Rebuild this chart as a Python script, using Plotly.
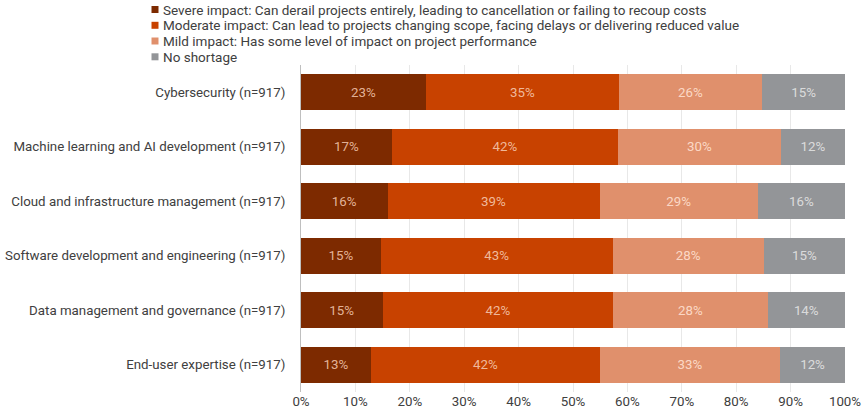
import plotly.graph_objects as go

categories = ['Cybersecurity (n=917)', 'Machine learning and AI development (n=917)',
              'Cloud and infrastructure management (n=917)', 'Software development and engineering (n=917)',
              'Data management and governance (n=917)', 'End-user expertise (n=917)']

severe = [23.0, 16.7, 15.9, 14.7, 15.0, 12.9]
moderate = [35.4, 41.6, 39.0, 42.6, 42.4, 42.0]
mild = [26.4, 29.9, 29.1, 27.8, 28.4, 33.2]
no_shortage = [15.2, 11.8, 16.0, 14.9, 14.2, 11.9]

series = [
    ('Severe impact: Can derail projects entirely, leading to cancellation or failing to recoup costs', severe, '#7d2a00', 'rgba(240,195,170,0.9)'),
    ('Moderate impact: Can lead to projects changing scope, facing delays or delivering reduced value', moderate, '#c84200', 'rgba(245,200,175,0.9)'),
    ('Mild impact: Has some level of impact on project performance', mild, '#e0906c', 'rgba(255,225,210,0.9)'),
    ('No shortage', no_shortage, '#939598', 'rgba(228,228,228,0.9)'),
]

# plot area in pixels: x 301..845, y 65..392
W, H = 865, 419
L, R, T, B = 301, 20, 65, 27
pw, ph = W - L - R, H - T - B

def px_x(x):
    return (x - L) / pw

def px_y(y):
    return (H - B - y) / ph

fig = go.Figure()
for name, vals, color, txtcolor in series:
    fig.add_trace(go.Bar(
        y=categories, x=vals, name=name, orientation='h',
        marker=dict(color=color, line=dict(width=0)),
        texttemplate='%{x:.0f}%', textposition='inside', insidetextanchor='middle',
        textangle=0, constraintext='none', showlegend=False,
        textfont=dict(family='Roboto', size=13.3, color=txtcolor),
    ))

# legend drawn as squares + labels, tightly spaced like the original
leg_y = [9.5, 25.3, 41.0, 56.8]
for (name, vals, color, txtcolor), yc in zip(series, leg_y):
    fig.add_shape(type='rect', xref='paper', yref='paper',
                  x0=px_x(151.5), x1=px_x(158.5), y0=px_y(yc + 3.5), y1=px_y(yc - 3.5),
                  fillcolor=color, line=dict(width=0))
    fig.add_annotation(text=name, xref='paper', yref='paper', x=px_x(161), y=px_y(yc),
                       xanchor='left', yanchor='middle', showarrow=False,
                       font=dict(family='Roboto', size=13.5, color='#404040'))

fig.update_layout(
    barmode='stack', bargap=0.34,
    width=W, height=H,
    margin=dict(l=L, r=R, t=T, b=B, autoexpand=False),
    paper_bgcolor='white', plot_bgcolor='white',
    font=dict(family='Roboto', size=13.3, color='#404040'),
    showlegend=False,
)
fig.update_xaxes(range=[0, 100], tickvals=list(range(0, 101, 10)),
                 ticktext=[f'{v}%' for v in range(0, 101, 10)],
                 showgrid=True, gridcolor='#e8e8e8', gridwidth=1,
                 zeroline=False, showline=False, ticks='', fixedrange=True)
fig.update_yaxes(autorange='reversed', showline=True, linecolor='#bfbfbf', linewidth=1,
                 ticks='', ticklabelstandoff=12, showgrid=False, fixedrange=True)

# drop the default 8px page margin so the figure sits at the window origin
fig.write_html("out.html", config={'displayModeBar': False},
               post_script="document.body.style.margin='0';")
